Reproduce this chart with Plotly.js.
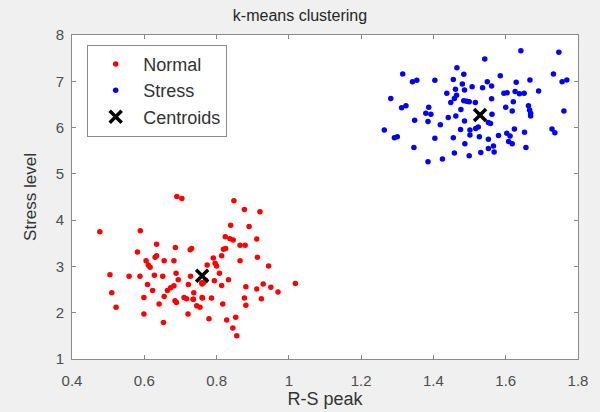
<!DOCTYPE html>
<html>
<head>
<meta charset="utf-8">
<script src="https://cdn.plot.ly/plotly-3.0.1.min.js"></script>
<style>html,body{margin:0;padding:0;background:#f0f0f0;}#chart{width:600px;height:412px;}</style>
</head>
<body>
<div id="chart"></div>
<script>
// Normal cluster (red)
const normalX = [0.690,0.704,0.848,0.877,0.920,0.477,0.589,0.839,0.890,0.824,0.837,0.846,0.911,0.634,0.686,0.727,0.731,0.865,0.879,0.819,0.825,0.581,0.630,0.634,0.791,0.814,0.913,0.605,0.611,0.616,0.655,0.682,0.774,0.796,0.800,0.865,0.944,0.505,0.558,0.588,0.628,0.651,0.688,0.728,0.759,0.765,0.808,0.694,0.794,0.833,0.609,0.682,0.673,0.722,0.814,1.018,0.881,0.911,0.929,0.950,0.970,0.510,0.623,0.664,0.655,0.737,0.599,0.685,0.689,0.710,0.717,0.736,0.760,0.786,0.877,0.924,0.641,0.745,0.754,0.817,0.881,0.522,0.599,0.721,0.779,0.828,0.853,0.653,0.845,0.856,0.735,0.761,0.770,0.760];
const normalY = [4.51,4.47,4.42,4.23,4.18,3.75,3.77,3.89,3.86,3.64,3.60,3.57,3.59,3.48,3.41,3.36,3.39,3.46,3.46,3.37,3.39,3.31,3.20,3.23,3.18,3.23,3.20,3.12,3.03,2.98,3.12,3.12,3.03,3.07,3.01,3.12,3.01,2.82,2.79,2.79,2.81,2.79,2.85,2.79,2.65,2.66,2.85,2.71,2.69,2.71,2.61,2.58,2.54,2.61,2.59,2.63,2.56,2.51,2.62,2.55,2.45,2.43,2.48,2.48,2.35,2.43,2.33,2.26,2.22,2.33,2.30,2.29,2.33,2.32,2.32,2.30,2.19,2.15,2.12,2.19,2.16,2.12,1.97,1.97,1.87,1.84,1.90,1.79,1.67,1.50,2.29,2.32,2.70,2.62];
// Stress cluster (blue)
const stressX = [1.642,1.747,1.542,1.465,1.315,1.484,1.732,1.585,1.342,1.354,1.404,1.455,1.549,1.629,1.667,1.756,1.769,1.480,1.507,1.536,1.561,1.461,1.486,1.437,1.464,1.458,1.595,1.604,1.626,1.638,1.651,1.691,1.282,1.448,1.484,1.492,1.499,1.516,1.561,1.621,1.312,1.324,1.387,1.600,1.476,1.618,1.663,1.666,1.669,1.669,1.379,1.393,1.562,1.761,1.462,1.441,1.348,1.385,1.486,1.552,1.558,1.419,1.264,1.475,1.501,1.517,1.524,1.624,1.652,1.728,1.736,1.292,1.300,1.404,1.455,1.501,1.527,1.552,1.580,1.603,1.612,1.608,1.618,1.487,1.346,1.552,1.566,1.656,1.458,1.531,1.568,1.425,1.499,1.385];
const stressY = [7.66,7.63,7.48,7.29,7.16,7.15,7.16,7.12,6.99,7.02,7.02,7.04,6.99,6.98,7.03,6.99,7.03,6.94,6.88,6.86,6.90,6.83,6.81,6.74,6.70,6.63,6.74,6.75,6.78,6.73,6.74,6.79,6.63,6.54,6.58,6.57,6.56,6.54,6.62,6.56,6.43,6.47,6.44,6.44,6.39,6.36,6.47,6.38,6.31,6.25,6.31,6.29,6.29,6.36,6.25,6.22,6.16,6.13,6.14,6.11,6.09,6.06,5.95,5.96,5.95,5.98,6.01,5.97,5.90,5.97,5.89,5.78,5.80,5.77,5.78,5.84,5.80,5.75,5.83,5.88,5.82,5.70,5.65,5.65,5.57,5.55,5.60,5.57,5.45,5.46,5.47,5.32,5.39,5.26];
// Centroids
const centroidX = [0.760, 1.529];
const centroidY = [2.80, 6.27];

const xTicks = [0.4,0.6,0.8,1,1.2,1.4,1.6,1.8];
const xTickText = ['0.4','0.6','0.8','1','1.2','1.4','1.6','1.8'];
const yTicks = [1,2,3,4,5,6,7,8];

const font = 'Liberation Sans, Arial, Helvetica, sans-serif';

const traces = [
  {x: normalX, y: normalY, type: 'scatter', mode: 'markers', name: 'Normal',
   marker: {color: '#ff0000', size: 5.5}},
  {x: stressX, y: stressY, type: 'scatter', mode: 'markers', name: 'Stress',
   marker: {color: '#0000ff', size: 5.5}},
  {x: centroidX, y: centroidY, type: 'scatter', mode: 'markers', name: 'Centroids',
   marker: {color: '#000000', size: 12, symbol: 'x-thin', line: {color: '#000000', width: 3.5}}}
];

const layout = {
  width: 600, height: 412,
  paper_bgcolor: '#f0f0f0',
  plot_bgcolor: '#ffffff',
  margin: {l: 72, r: 22, t: 35, b: 53},
  font: {family: font, color: '#4d4d4d', size: 15},
  title: {text: 'k-means clustering', font: {family: font, size: 16, color: '#262626'},
          x: 0.5, xanchor: 'center', y: 0.976, yanchor: 'top'},
  showlegend: true,
  legend: {x: 0.03, y: 0.97, xanchor: 'left', yanchor: 'top',
           bgcolor: '#ffffff', bordercolor: '#8a8a8a', borderwidth: 1,
           itemwidth: 45,
           font: {family: font, size: 18, color: '#333333'}},
  xaxis: {range: [0.4, 1.8], tickvals: xTicks, ticktext: xTickText,
          ticks: 'inside', ticklen: 4, tickcolor: '#8a8a8a',
          showline: true, linecolor: '#8a8a8a', linewidth: 1, mirror: 'allticks',
          showgrid: false, zeroline: false, ticklabelstandoff: 8,
          tickfont: {family: font, size: 15, color: '#4d4d4d'},
          title: {text: 'R-S peak', font: {family: font, size: 18, color: '#333333'}, standoff: 2}},
  yaxis: {range: [1, 8], tickvals: yTicks,
          ticks: 'inside', ticklen: 4, tickcolor: '#8a8a8a',
          showline: true, linecolor: '#8a8a8a', linewidth: 1, mirror: 'allticks',
          showgrid: false, zeroline: false, ticklabelstandoff: 4,
          tickfont: {family: font, size: 15, color: '#4d4d4d'},
          title: {text: 'Stress level', font: {family: font, size: 17, color: '#333333'}, standoff: 14}}
};

Plotly.newPlot('chart', traces, layout, {displayModeBar: false, staticPlot: true});
</script>
</body>
</html>
